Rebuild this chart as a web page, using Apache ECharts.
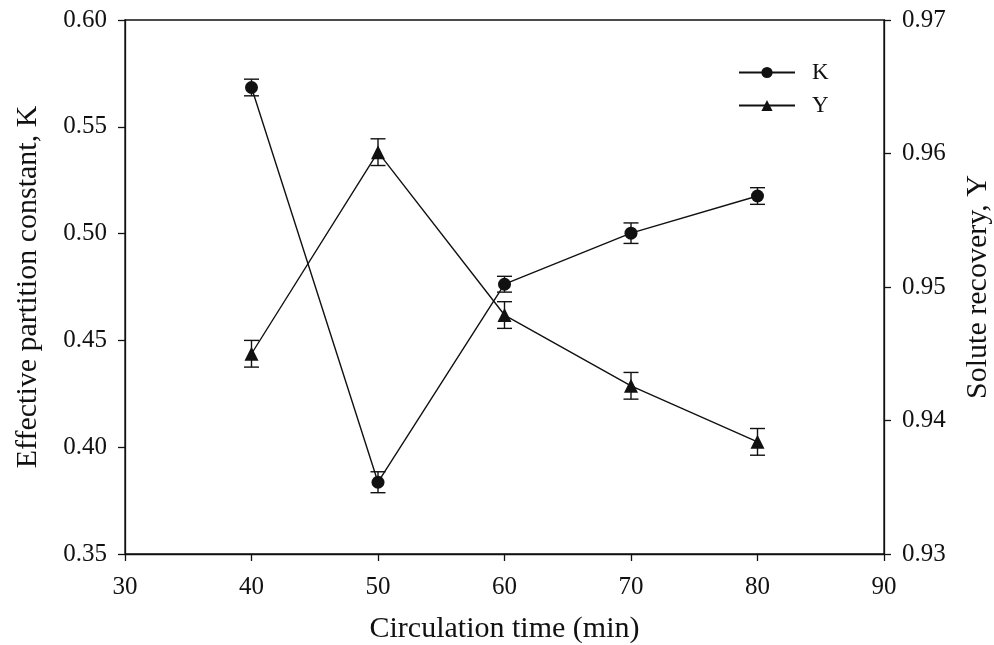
<!DOCTYPE html>
<html>
<head>
<meta charset="utf-8">
<script src="https://cdn.jsdelivr.net/npm/echarts@6/dist/echarts.min.js"></script>
<style>
html,body{margin:0;padding:0;background:#fff;}
#chart{width:994px;height:645px;}
</style>
</head>
<body>
<div id="chart"></div>
<script>
var times = [40, 50, 60, 70, 80];
var kValues = [0.5684, 0.3836, 0.4763, 0.5002, 0.5176];
var kErrors = [0.0039, 0.0049, 0.0037, 0.0048, 0.0039];
var yValues = [0.9450, 0.9601, 0.9479, 0.9426, 0.9384];
var yErrors = [0.0010, 0.0010, 0.0010, 0.0010, 0.0010];
var xTicks = [30, 40, 50, 60, 70, 80, 90];
var leftTicks = [0.35, 0.40, 0.45, 0.50, 0.55, 0.60];
var rightTicks = [0.93, 0.94, 0.95, 0.96, 0.97];

var FONT = '"Liberation Serif", "DejaVu Serif", serif';
var INK = '#111';

function pairs(xs, vs) {
  return xs.map(function (x, i) { return [x, vs[i]]; });
}
function errData(xs, vs, es) {
  return xs.map(function (x, i) { return [x, vs[i] - es[i], vs[i] + es[i]]; });
}
function errRender(params, api) {
  var x = api.value(0);
  var lo = api.coord([x, api.value(1)]);
  var hi = api.coord([x, api.value(2)]);
  var half = 7.5;
  var st = { stroke: INK, lineWidth: 1.4 };
  return {
    type: 'group',
    children: [
      { type: 'line', shape: { x1: lo[0], y1: lo[1], x2: hi[0], y2: hi[1] }, style: st },
      { type: 'line', shape: { x1: lo[0] - half, y1: lo[1], x2: lo[0] + half, y2: lo[1] }, style: st },
      { type: 'line', shape: { x1: hi[0] - half, y1: hi[1], x2: hi[0] + half, y2: hi[1] }, style: st }
    ]
  };
}

var chart = echarts.init(document.getElementById('chart'), null, { renderer: 'canvas' });
var axisLine = { show: true, lineStyle: { color: INK, width: 1.3 } };
var axisTick = { show: true, inside: false, length: 7, lineStyle: { color: INK, width: 1.3 } };
var labelStyle = { color: INK, fontFamily: FONT, fontSize: 25 };
var titleStyle = { fontFamily: FONT, fontSize: 30, color: INK };

chart.setOption({
  backgroundColor: '#fff',
  animation: false,
  grid: {
    left: 125, right: 110, top: 20, bottom: 91,
    containLabel: false, outerBoundsMode: 'none',
    show: true, borderColor: INK, borderWidth: 1.3, backgroundColor: 'transparent'
  },
  legend: {
    left: 733, top: 56, orient: 'vertical',
    itemWidth: 56, itemHeight: 14, itemGap: 10,
    textStyle: { fontFamily: FONT, fontSize: 23, color: INK, padding: [0, 0, 0, 12] },
    data: ['K', 'Y']
  },
  xAxis: {
    type: 'value', min: xTicks[0], max: xTicks[xTicks.length - 1], interval: 10,
    name: 'Circulation time (min)', nameLocation: 'middle', nameGap: 60,
    nameTextStyle: titleStyle,
    axisLine: axisLine, axisTick: axisTick,
    axisLabel: Object.assign({ margin: 21 }, labelStyle),
    splitLine: { show: false }
  },
  yAxis: [
    {
      type: 'value', position: 'left', min: leftTicks[0], max: leftTicks[leftTicks.length - 1], interval: 0.05,
      name: 'Effective partition constant, K', nameLocation: 'middle', nameGap: 82, nameRotate: 90,
      nameTextStyle: titleStyle,
      axisLine: axisLine, axisTick: axisTick,
      axisLabel: Object.assign({ margin: 18, formatter: function (v) { return v.toFixed(2); } }, labelStyle),
      splitLine: { show: false }
    },
    {
      type: 'value', position: 'right', min: rightTicks[0], max: rightTicks[rightTicks.length - 1], interval: 0.01,
      name: 'Solute recovery, Y', nameLocation: 'middle', nameGap: 79, nameRotate: 90,
      nameTextStyle: titleStyle,
      axisLine: axisLine, axisTick: axisTick,
      axisLabel: Object.assign({ margin: 18, formatter: function (v) { return v.toFixed(2); } }, labelStyle),
      splitLine: { show: false }
    }
  ],
  series: [
    {
      name: 'K', type: 'line', yAxisIndex: 0, data: pairs(times, kValues),
      symbol: 'circle', symbolSize: 13, z: 5,
      lineStyle: { color: INK, width: 1.4 }, itemStyle: { color: INK }
    },
    {
      name: 'Y', type: 'line', yAxisIndex: 1, data: pairs(times, yValues),
      symbol: 'triangle', symbolSize: 14, z: 5,
      lineStyle: { color: INK, width: 1.4 }, itemStyle: { color: INK }
    },
    {
      name: 'Kerr', type: 'custom', yAxisIndex: 0, data: errData(times, kValues, kErrors),
      encode: { x: 0, y: [1, 2] }, renderItem: errRender, z: 4, silent: true
    },
    {
      name: 'Yerr', type: 'custom', yAxisIndex: 1, data: errData(times, yValues, yErrors),
      encode: { x: 0, y: [1, 2] }, renderItem: errRender, z: 4, silent: true
    }
  ]
});
</script>
</body>
</html>
